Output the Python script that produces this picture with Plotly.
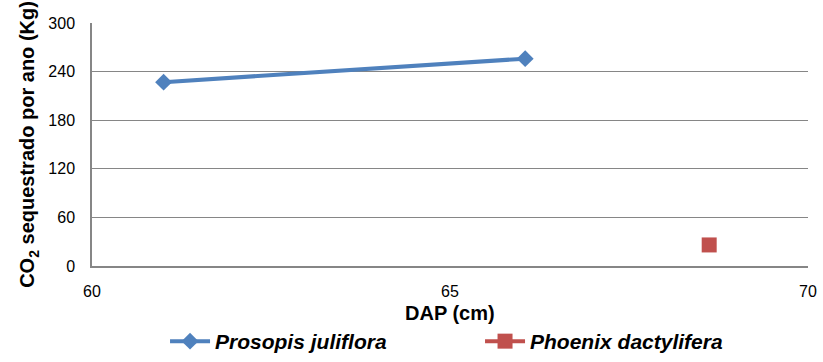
import plotly.graph_objects as go

# Data
prosopis_x = [61.0, 66.05]
prosopis_y = [227, 256]
phoenix_x = [68.62]
phoenix_y = [26]
x_ticks = [60, 65, 70]
y_ticks = [0, 60, 120, 180, 240, 300]

FONT = "Liberation Sans Narrow, Liberation Sans, Arial"

fig = go.Figure()
fig.add_trace(go.Scatter(
    x=prosopis_x, y=prosopis_y, mode="lines+markers",
    name="<b><i>Prosopis juliflora</i></b>",
    line=dict(color="#4F81BD", width=4),
    marker=dict(symbol="diamond", size=13, color="#4F81BD"),
))
fig.add_trace(go.Scatter(
    x=phoenix_x, y=phoenix_y, mode="lines+markers",
    name="<b><i>Phoenix dactylifera</i></b>",
    line=dict(color="#C0504D", width=4),
    marker=dict(symbol="square", size=15, color="#C0504D"),
))

fig.update_layout(
    width=823, height=362,
    margin=dict(l=92, r=15, t=23, b=96, autoexpand=False),
    paper_bgcolor="white", plot_bgcolor="white",
    font=dict(family=FONT, size=16, color="black"),
    showlegend=True,
    legend=dict(orientation="h", x=0.102, xanchor="left",
                yref="container", y=0.0, yanchor="bottom",
                font=dict(size=21), itemwidth=40, tracegroupgap=0,
                entrywidth=260),
    xaxis=dict(
        range=[60, 70], tickvals=x_ticks, ticktext=[str(v) for v in x_ticks],
        showgrid=False, showline=True, linecolor="#868686", linewidth=1.5,
        ticks="outside", ticklen=10, tickcolor="rgba(0,0,0,0)", zeroline=False,
        tickfont=dict(size=16),
    ),
    yaxis=dict(
        range=[0, 300], tickvals=y_ticks,
        showgrid=True, gridcolor="#868686", gridwidth=1.2,
        showline=True, linecolor="#868686", linewidth=1.5,
        ticks="", ticklabelstandoff=12, zeroline=False,
        title=dict(text="<b>CO<sub>2</sub> sequestrado por ano (Kg)</b>", font=dict(size=20), standoff=8),
        tickfont=dict(size=16),
    ),
    annotations=[dict(
        text="<b>DAP (cm)</b>", xref="paper", yref="paper", x=0.5, y=-0.195,
        xanchor="center", yanchor="middle", showarrow=False, font=dict(size=20),
    )],
)

fig.write_html("out.html")
